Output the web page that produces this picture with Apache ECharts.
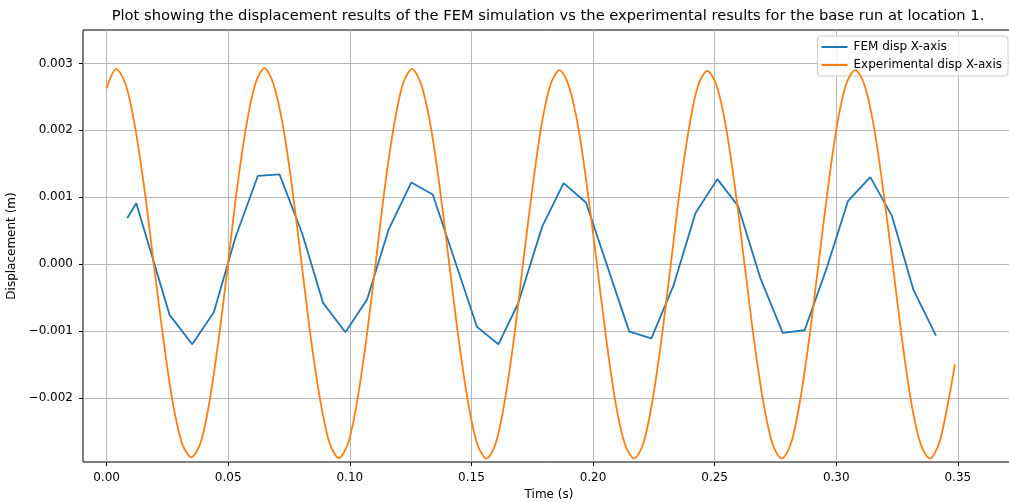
<!DOCTYPE html>
<html>
<head>
<meta charset="utf-8">
<script src="https://cdn.jsdelivr.net/npm/echarts@6/dist/echarts.min.js"></script>
<style>
    html, body { margin: 0; padding: 0; background: #fff; }
    #main { width: 1009px; height: 502px; }
</style>
</head>
<body>
<div id="main"></div>
<script type="text/javascript">
    // FEM results (time in s, displacement in m)
    var femTime = [0.0085, 0.0122, 0.0259, 0.0352, 0.0441, 0.0530, 0.0622, 0.0711, 0.0804, 0.0890,
        0.0982, 0.1071, 0.1160, 0.1253, 0.1341, 0.1523, 0.1611, 0.1692, 0.1791, 0.1879,
        0.1971, 0.2149, 0.2240, 0.2332, 0.2421, 0.2511, 0.2596, 0.2688, 0.2780, 0.2870,
        0.2959, 0.3048, 0.3140, 0.3229, 0.3318, 0.3410];
    var femDisp = [0.00069, 0.00091, -0.00076, -0.00120, -0.00072, 0.00040, 0.00132, 0.00134, 0.00046, -0.00058,
        -0.00102, -0.00053, 0.00052, 0.00122, 0.00104, -0.00094, -0.00120, -0.00059, 0.00056, 0.00121,
        0.00092, -0.00101, -0.00111, -0.00031, 0.00076, 0.00127, 0.00087, -0.00021, -0.00103, -0.00099,
        -0.00008, 0.00094, 0.00130, 0.00072, -0.00039, -0.00107];

    // experimental results
    var expTime = [0.0000, 0.0040,
        0.0079, 0.0117, 0.0156, 0.0194, 0.0233, 0.0271, 0.0310, 0.0348,
        0.0386, 0.0423, 0.0461, 0.0499, 0.0536, 0.0574, 0.0611, 0.0649,
        0.0687, 0.0726, 0.0764, 0.0802, 0.0840, 0.0879, 0.0917, 0.0955,
        0.0993, 0.1030, 0.1068, 0.1106, 0.1143, 0.1181, 0.1218, 0.1256,
        0.1294, 0.1333, 0.1371, 0.1409, 0.1447, 0.1486, 0.1524, 0.1562,
        0.1600, 0.1637, 0.1675, 0.1712, 0.1750, 0.1787, 0.1825, 0.1862,
        0.1900, 0.1939, 0.1977, 0.2016, 0.2054, 0.2092, 0.2131, 0.2169,
        0.2207, 0.2244, 0.2282, 0.2320, 0.2357, 0.2395, 0.2432, 0.2470,
        0.2508, 0.2547, 0.2585, 0.2623, 0.2661, 0.2700, 0.2738, 0.2776,
        0.2814, 0.2851, 0.2889, 0.2927, 0.2965, 0.3002, 0.3040, 0.3078,
        0.3116, 0.3155, 0.3193, 0.3232, 0.3270, 0.3308, 0.3347, 0.3385,
        0.3423, 0.3461, 0.3488];
    var expDisp = [0.00263, 0.00292,
        0.00268, 0.00205, 0.00111, 0.00000, -0.00111, -0.00205, -0.00268, -0.00289,
        -0.00268, -0.00206, -0.00112, 0.00000, 0.00112, 0.00206, 0.00269, 0.00293,
        0.00268, 0.00205, 0.00111, 0.00000, -0.00111, -0.00205, -0.00268, -0.00290,
        -0.00268, -0.00206, -0.00112, 0.00000, 0.00112, 0.00206, 0.00269, 0.00292,
        0.00268, 0.00205, 0.00111, 0.00000, -0.00111, -0.00206, -0.00269, -0.00291,
        -0.00268, -0.00205, -0.00111, 0.00000, 0.00111, 0.00205, 0.00268, 0.00290,
        0.00267, 0.00205, 0.00111, 0.00000, -0.00111, -0.00206, -0.00269, -0.00291,
        -0.00268, -0.00205, -0.00111, 0.00000, 0.00111, 0.00204, 0.00267, 0.00289,
        0.00267, 0.00204, 0.00111, 0.00000, -0.00111, -0.00206, -0.00269, -0.00291,
        -0.00268, -0.00205, -0.00111, 0.00000, 0.00111, 0.00205, 0.00268, 0.00290,
        0.00268, 0.00205, 0.00111, 0.00000, -0.00111, -0.00206, -0.00269, -0.00291,
        -0.00268, -0.00205, -0.00150];

    var xTicks = [0, 0.05, 0.10, 0.15, 0.20, 0.25, 0.30, 0.35];
    var yTicks = [-0.002, -0.001, 0, 0.001, 0.002, 0.003];

    function pairs(xs, ys) {
        var out = [];
        for (var i = 0; i < xs.length; i++) out.push([xs[i], ys[i]]);
        return out;
    }
    function minus(s) { return s.replace('-', '\u2212'); }

    var font = 'DejaVu Sans';
    var myChart = echarts.init(document.getElementById('main'));
    var option = {
        animation: false,
        backgroundColor: '#fff',
        textStyle: { fontFamily: font },
        title: {
            text: 'Plot showing the displacement results of the FEM simulation vs the experimental results for the base run at location 1.',
            left: 548,
            top: 9,
            padding: 0,
            textAlign: 'center',
            textStyle: { fontFamily: font, fontSize: 14.7, fontWeight: 'normal', color: '#000' }
        },
        legend: {
            orient: 'vertical',
            right: 1,
            top: 36,
            padding: [5, 6, 5, 4],
            itemGap: 6,
            itemWidth: 26,
            itemHeight: 2,
            icon: 'rect',
            backgroundColor: 'rgba(255,255,255,0.8)',
            borderColor: '#cccccc',
            borderWidth: 1,
            borderRadius: 3,
            textStyle: { fontFamily: font, fontSize: 12, color: '#000', padding: [0, 0, 0, 1] },
            data: ['FEM disp X-axis', 'Experimental disp X-axis']
        },
        grid: {
            left: 83,
            right: -6,
            top: 30,
            bottom: 40,
            outerBoundsMode: 'none',
            containLabel: false,
            show: true,
            borderColor: '#000',
            borderWidth: 1,
            backgroundColor: 'transparent'
        },
        xAxis: {
            type: 'value',
            min: -0.0097,
            max: 0.3735,
            name: 'Time (s)',
            nameLocation: 'middle',
            nameGap: 27,
            nameTextStyle: { fontFamily: font, fontSize: 12, color: '#000' },
            axisLine: { show: false, onZero: false },
            axisTick: { show: true, inside: false, length: 4, customValues: xTicks, lineStyle: { color: '#000', width: 1 } },
            axisLabel: {
                customValues: xTicks,
                margin: 10,
                fontFamily: font,
                fontSize: 12,
                color: '#000',
                formatter: function (v) { return v.toFixed(2); }
            },
            splitLine: { show: true, lineStyle: { color: '#b0b0b0', width: 0.9 } }
        },
        yAxis: {
            type: 'value',
            min: -0.00296,
            max: 0.0035,
            name: 'Displacement (m)',
            nameLocation: 'middle',
            nameGap: 54,
            nameRotate: 90,
            nameTextStyle: { fontFamily: font, fontSize: 12, color: '#000' },
            axisLine: { show: false, onZero: false },
            axisTick: { show: true, inside: false, length: 4, customValues: yTicks, lineStyle: { color: '#000', width: 1 } },
            axisLabel: {
                customValues: yTicks,
                margin: 10,
                fontFamily: font,
                fontSize: 12,
                color: '#000',
                formatter: function (v) { return minus(v.toFixed(3)); }
            },
            splitLine: { show: true, lineStyle: { color: '#b0b0b0', width: 0.9 } }
        },
        series: [
            {
                name: 'FEM disp X-axis',
                type: 'line',
                symbol: 'none',
                data: pairs(femTime, femDisp),
                lineStyle: { color: '#1f77b4', width: 1.8 },
                itemStyle: { color: '#1f77b4' },
                z: 3
            },
            {
                name: 'Experimental disp X-axis',
                type: 'line',
                symbol: 'none',
                smooth: 0.3,
                data: pairs(expTime, expDisp),
                lineStyle: { color: '#ff7f0e', width: 1.8 },
                itemStyle: { color: '#ff7f0e' },
                z: 4
            }
        ]
    };
    myChart.setOption(option);
</script>
</body>
</html>
